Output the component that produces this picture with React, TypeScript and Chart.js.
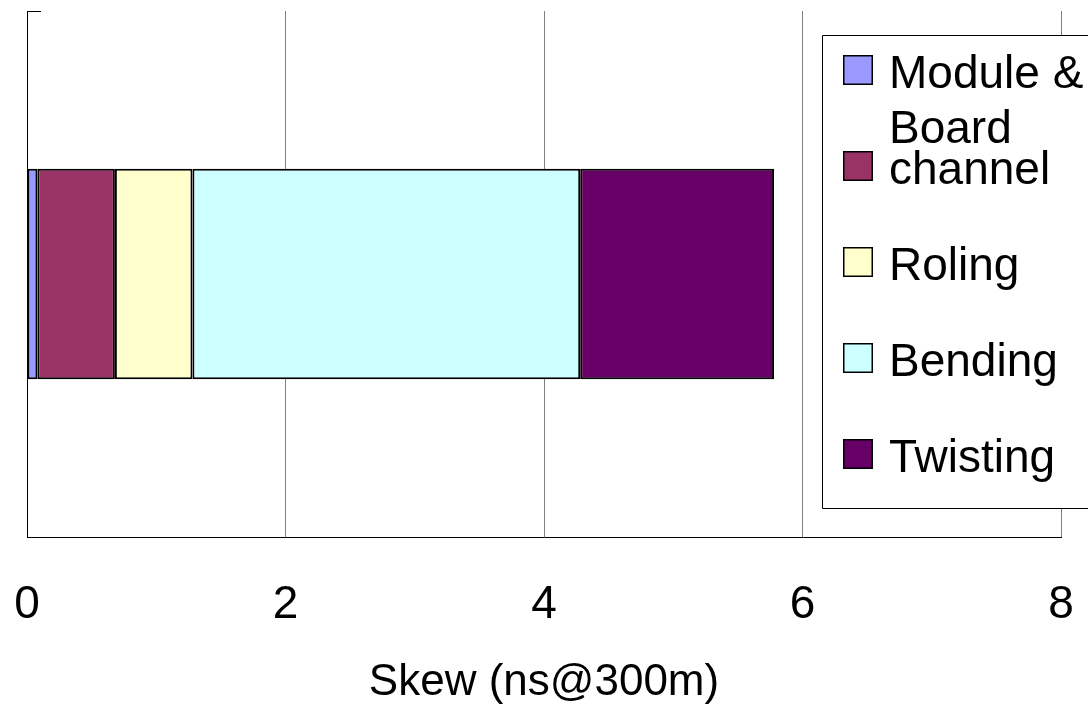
import React, { useEffect, useRef } from 'react';
import { Chart, registerables } from 'chart.js';

Chart.register(...registerables);

const categories = ['Skew'];
const seriesNames = ['Module & Board', 'channel', 'Roling', 'Bending', 'Twisting'];
const moduleBoard = [0.08];
const channel = [0.6];
const roling = [0.6];
const bending = [3.0];
const twisting = [1.5];
const seriesColors = ['#9999FF', '#993366', '#FFFFCC', '#CCFFFF', '#660066'];
const xTickValues = [0, 2, 4, 6, 8];
const axisTitle = 'Skew (ns@300m)';

const FONT = '"Liberation Sans", Arial, sans-serif';

const cornerTickPlugin = {
  id: 'cornerTick',
  afterDraw(chart: any) {
    const { ctx, chartArea } = chart;
    ctx.save();
    ctx.strokeStyle = '#000';
    ctx.lineWidth = 1;
    ctx.beginPath();
    ctx.moveTo(chartArea.left, Math.round(chartArea.top) + 0.5);
    ctx.lineTo(chartArea.left + 14, Math.round(chartArea.top) + 0.5);
    ctx.stroke();
    ctx.restore();
  },
};

const boxLegendPlugin = {
  id: 'boxLegend',
  afterDraw(chart: any) {
    const ctx = chart.ctx;
    const W = chart.width;
    const boxL = 822.5;
    const boxT = 35.5;
    const boxB = 508.5;
    ctx.save();
    ctx.fillStyle = '#fff';
    ctx.fillRect(boxL, boxT, W - boxL + 10, boxB - boxT);
    ctx.strokeStyle = '#000';
    ctx.lineWidth = 1;
    ctx.beginPath();
    ctx.moveTo(W + 5, boxT);
    ctx.lineTo(boxL, boxT);
    ctx.lineTo(boxL, boxB);
    ctx.lineTo(W + 5, boxB);
    ctx.stroke();

    const markerX = 843;
    const markerSize = 30;
    const textX = 889;
    const rowTop0 = 55;
    const rowStep = 96;
    const lineH = 55;
    ctx.font = `46px ${FONT}`;
    ctx.textBaseline = 'alphabetic';
    ctx.textAlign = 'left';
    chart.data.datasets.forEach((ds: any, i: number) => {
      const top = rowTop0 + i * rowStep;
      ctx.fillStyle = ds.backgroundColor;
      ctx.fillRect(markerX, top, markerSize, markerSize);
      ctx.lineWidth = 1.5;
      ctx.strokeStyle = '#000';
      ctx.strokeRect(markerX + 0.75, top + 0.75, markerSize - 1.5, markerSize - 1.5);
      const maxW = W - textX + 12;
      const words = String(ds.label).split(' ');
      const lines: string[] = [];
      let cur = '';
      words.forEach((w) => {
        const t = cur ? cur + ' ' + w : w;
        if (cur && ctx.measureText(t).width > maxW) {
          lines.push(cur);
          cur = w;
        } else {
          cur = t;
        }
      });
      if (cur) lines.push(cur);
      ctx.fillStyle = '#000';
      lines.forEach((ln, j) => ctx.fillText(ln, textX, top + 33 + j * lineH));
    });
    ctx.restore();
  },
};

export default function App() {
  const canvasRef = useRef<HTMLCanvasElement | null>(null);

  useEffect(() => {
    document.body.style.margin = '0';
    const canvas = canvasRef.current;
    if (!canvas) return;
    const seriesValues = [moduleBoard, channel, roling, bending, twisting];
    const chart = new Chart(canvas, {
      type: 'bar',
      data: {
        labels: categories,
        datasets: seriesNames.map((name, i) => ({
          label: name,
          data: seriesValues[i],
          backgroundColor: seriesColors[i],
          borderColor: '#000',
          borderWidth: 2,
          borderSkipped: false,
          barPercentage: 0.4,
          categoryPercentage: 1,
        })),
      },
      options: {
        indexAxis: 'y',
        animation: false,
        responsive: false,
        maintainAspectRatio: false,
        layout: { padding: { left: 27, right: 27, top: 11, bottom: 0 } },
        plugins: {
          legend: { display: false },
          tooltip: { enabled: false },
          title: { display: false },
        },
        scales: {
          x: {
            type: 'linear',
            min: 0,
            max: 8,
            stacked: true,
            afterBuildTicks: (scale: any) => {
              scale.ticks = xTickValues.map((v) => ({ value: v }));
            },
            grid: {
              color: (c: any) => (c.tick && c.tick.value === 0 ? '#000' : '#808080'),
              lineWidth: 1,
              drawTicks: true,
              tickLength: 45,
              tickColor: 'rgba(0,0,0,0)',
            },
            border: { display: true, color: '#000', width: 1 },
            ticks: {
              font: { family: FONT, size: 46, lineHeight: 1 },
              color: '#000',
              padding: 0,
              maxRotation: 0,
              autoSkip: false,
            },
            title: {
              display: true,
              text: axisTitle,
              color: '#000',
              font: { family: FONT, size: 44, lineHeight: 1 },
              padding: { top: 33, bottom: 2 },
            },
          },
          y: {
            type: 'category',
            display: false,
            stacked: true,
          },
        },
      },
      plugins: [cornerTickPlugin, boxLegendPlugin],
    } as any);
    return () => chart.destroy();
  }, []);

  return (
    <div style={{ width: 1088, height: 707 }}>
      <canvas ref={canvasRef} width={1088} height={707} />
    </div>
  );
}
